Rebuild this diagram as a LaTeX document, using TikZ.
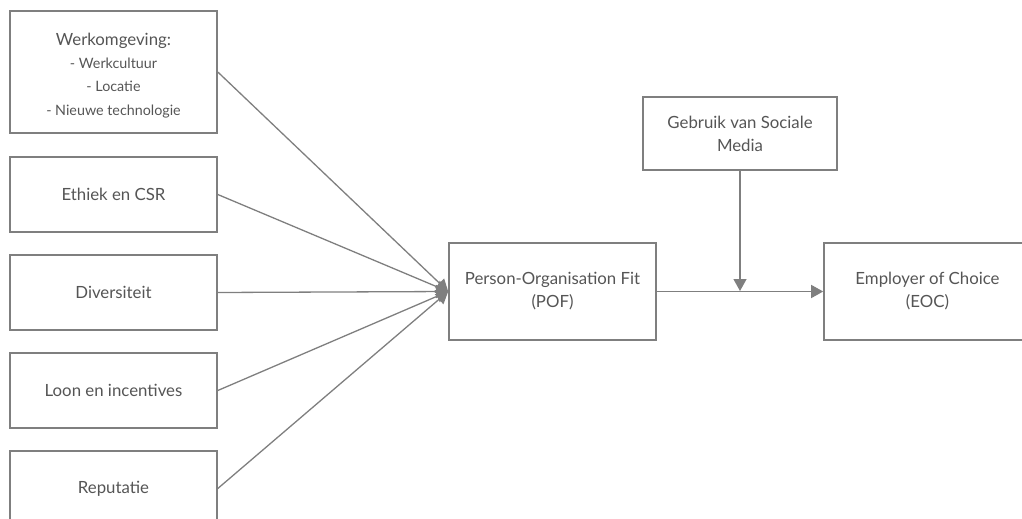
\documentclass[tikz,border=0pt]{standalone}
\usepackage{fontspec}
\setmainfont{Lato}
\usetikzlibrary{arrows.meta,positioning}
\definecolor{boxline}{HTML}{7F7F7F}
\definecolor{boxtext}{HTML}{555555}
\newcommand\subfont{\fontsize{14.3}{21}\selectfont}

\begin{document}
\begin{tikzpicture}[x=1pt,y=-1pt,
    factor/.style={rectangle, draw=boxline, line width=1.6pt, text=boxtext, inner sep=0pt,
        minimum width=207pt, minimum height=75pt, align=center,
        font=\fontsize{16.8}{23}\selectfont},
    link/.style={draw=boxline, line width=1.3pt, -{Triangle[length=12pt,width=13pt]}}]
    \useasboundingbox (0,0) rectangle (1022,519);
    % factoren links
    \node (werk) [factor, minimum height=122pt] at (113.5,72)
        {\rule{0pt}{20pt}Werkomgeving:\\
        \subfont - Werkcultuur\\ \subfont - Locatie\\[1pt] \subfont - Nieuwe technologie};
    \node (ethiek) [factor] at (113.5,194.5) {Ethiek en CSR};
    \node (divers) [factor] at (113.5,292.5) {Diversiteit};
    \node (loon) [factor] at (113.5,390.5) {Loon en incentives};
    \node (reputatie) [factor] at (113.5,488.5) {Reputatie};
    % midden en rechts
    \node (pof) [factor, minimum height=97pt] at (552.5,291.5) {Person-Organisation Fit\\ (POF)};
    \node (eoc) [factor, minimum height=97pt] at (927.5,291.5) {Employer of Choice\\ (EOC)};
    \node (media) [factor, minimum width=194pt, minimum height=73pt] at (740,133.5) {Gebruik van Sociale\\ Media};
    \coordinate (moderator) at (740,291);
    \foreach \src in {werk,ethiek,divers,loon,reputatie}
        \draw [link] (\src.east) -- (pof.west);
    \draw [link] (pof.east) -- (eoc.west);
    \draw [link] (media.south) -- (moderator);
\end{tikzpicture}
\end{document}
